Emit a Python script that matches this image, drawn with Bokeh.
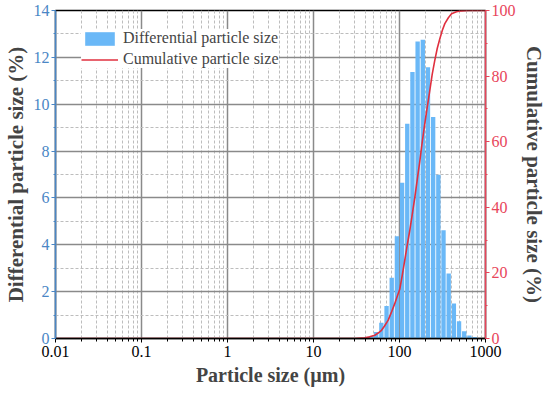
import math
from bokeh.plotting import figure
from bokeh.models import (LinearAxis, Range1d, FixedTicker, SingleIntervalTicker,
                          Legend, LegendItem, CustomJSTickFormatter, ColumnDataSource)
from bokeh.embed import file_html
from bokeh.resources import INLINE

# ---- data ----
# bin edges (µm) of the differential distribution
bin_edges = [37.89, 43.53, 50.0, 57.43, 65.98, 75.79, 87.06, 100.0, 114.87, 131.95,
             151.57, 174.11, 200.0, 229.74, 263.90, 303.14, 348.22, 400.0, 459.48,
             527.80, 606.29, 696.44, 800.0]
diff_pct = [0.04, 0.11, 0.28, 0.67, 1.39, 2.59, 4.36, 6.65, 9.17, 11.37, 12.68,
            12.75, 11.58, 9.45, 6.99, 4.62, 2.77, 1.49, 0.74, 0.31, 0.13, 0.06]

cum_size = [0.01, 30, 39.5, 45, 51.6, 56, 61.8, 67, 73.9, 80, 88.2, 94, 100.7, 108,
            115.2, 123, 131.8, 141, 150.7, 161, 172.2, 184, 196.8, 210, 225.0, 240,
            257.2, 275, 294.4, 315, 336.5, 370, 402.7, 460, 526, 629.5, 1000]
cum_pct = [0, 0, 0.2, 0.5, 1.0, 1.6, 2.5, 3.8, 5.6, 7.8, 10.7, 12.8, 15.0, 19.5,
           23.9, 28.5, 33, 38, 43, 48.5, 54, 60, 65.5, 70.5, 75.6, 80.5,
           84.8, 88.5, 91.4, 94, 96, 97.8, 99, 99.6, 99.9, 100, 100]

x_major = [0.01, 0.1, 1, 10, 100, 1000]

FONT = "Liberation Serif"
BLUE_AX = "#4a86c5"
RED_AX = "#e8455a"
BAR = "#6ab8f7"
CURVE = "#e0303f"

# bars with small gaps (style)
lefts, rights = [], []
for i in range(len(diff_pct)):
    l, r = math.log10(bin_edges[i]), math.log10(bin_edges[i + 1])
    g = (r - l) * 0.08
    lefts.append(10 ** (l + g))
    rights.append(10 ** (r - g))

p = figure(frame_width=430, frame_height=328, x_axis_type="log", x_range=(0.01, 1000),
           y_range=(0, 14), output_backend="svg", toolbar_location=None,
           min_border_left=0, min_border_right=0, min_border_top=10,
           min_border_bottom=0)
p.extra_y_ranges = {"cum": Range1d(0, 100)}
p.outline_line_color = "black"
p.outline_line_width = 1.5

minor_x = []
for d in x_major[:-1]:
    for k in range(2, 10):
        minor_x.append(d * k)

# grids
p.xgrid.ticker = FixedTicker(ticks=x_major, minor_ticks=minor_x)
p.xgrid.grid_line_color = "#8a8a8a"
p.xgrid.grid_line_width = 1.5
p.xgrid.minor_grid_line_color = "#bdbdbd"
p.xgrid.minor_grid_line_dash = "3 2"
p.xgrid.minor_grid_line_width = 1
p.ygrid.grid_line_color = "#8a8a8a"
p.ygrid.grid_line_width = 1.5
p.ygrid.minor_grid_line_color = "#bdbdbd"
p.ygrid.minor_grid_line_dash = "3 2"
p.ygrid.minor_grid_line_width = 1

# x axis
xa = p.xaxis[0]
xa.ticker = FixedTicker(ticks=x_major, minor_ticks=minor_x)
xa.formatter = CustomJSTickFormatter(code="return tick.toString();")
xa.axis_label = "Particle size (µm)"
xa.axis_label_text_font = FONT
xa.axis_label_text_font_style = "bold"
xa.axis_label_text_font_size = "20px"
xa.axis_label_standoff = 4
xa.major_label_text_font = FONT
xa.major_label_text_font_size = "16px"
xa.major_label_text_color = "black"
xa.major_label_standoff = 3
xa.axis_line_color = "black"
xa.axis_line_width = 1.5
xa.major_tick_line_color = "black"
xa.minor_tick_line_color = "black"
xa.major_tick_out = 4
xa.major_tick_in = 0
xa.minor_tick_out = 3
xa.minor_tick_in = 0

# left axis
ya = p.yaxis[0]
ya.ticker = SingleIntervalTicker(interval=2, num_minor_ticks=2)
ya.axis_label = "Differential particle size (%)"
ya.axis_label_text_font = FONT
ya.axis_label_text_font_style = "bold"
ya.axis_label_text_font_size = "21px"
ya.axis_label_standoff = 3
ya.major_label_text_font = FONT
ya.major_label_text_font_size = "16px"
ya.major_label_text_color = BLUE_AX
ya.major_label_standoff = 2
ya.axis_line_color = BLUE_AX
ya.axis_line_width = 1.5
ya.major_tick_line_color = BLUE_AX
ya.minor_tick_line_color = BLUE_AX
ya.major_tick_out = 4
ya.major_tick_in = 0
ya.minor_tick_out = 2
ya.minor_tick_in = 0

# right axis
ra = LinearAxis(y_range_name="cum",
                ticker=SingleIntervalTicker(interval=20, num_minor_ticks=2))
ra.axis_label = "Cumulative particle size (%)"
ra.axis_label_text_font = FONT
ra.axis_label_text_font_style = "bold"
ra.axis_label_text_font_size = "21px"
ra.axis_label_standoff = 3
ra.major_label_text_font = FONT
ra.major_label_text_font_size = "16px"
ra.major_label_text_color = RED_AX
ra.major_label_standoff = 2
ra.axis_line_color = RED_AX
ra.axis_line_width = 1.5
ra.major_tick_line_color = RED_AX
ra.minor_tick_line_color = RED_AX
ra.major_tick_out = 4
ra.major_tick_in = 0
ra.minor_tick_out = 2
ra.minor_tick_in = 0
p.add_layout(ra, "right")

src = ColumnDataSource(dict(left=lefts, right=rights, top=diff_pct, bottom=[0] * len(diff_pct)))
bars = p.quad(left="left", right="right", top="top", bottom="bottom", source=src,
              fill_color=BAR, line_color=None)
curve = p.line(cum_size, cum_pct, y_range_name="cum", line_color=CURVE, line_width=1.6)

legend = Legend(items=[LegendItem(label="Differential particle size", renderers=[bars]),
                       LegendItem(label="Cumulative particle size", renderers=[curve])],
                location=(26, 270))
legend.label_text_font = FONT
legend.label_text_font_size = "16px"
legend.glyph_width = 37
legend.glyph_height = 17
legend.label_standoff = 5
legend.spacing = 3
legend.padding = 3
legend.margin = 0
legend.border_line_color = None
legend.background_fill_color = "white"
legend.background_fill_alpha = 1.0
p.add_layout(legend)

open("out.html", "w").write(file_html(p, INLINE))
